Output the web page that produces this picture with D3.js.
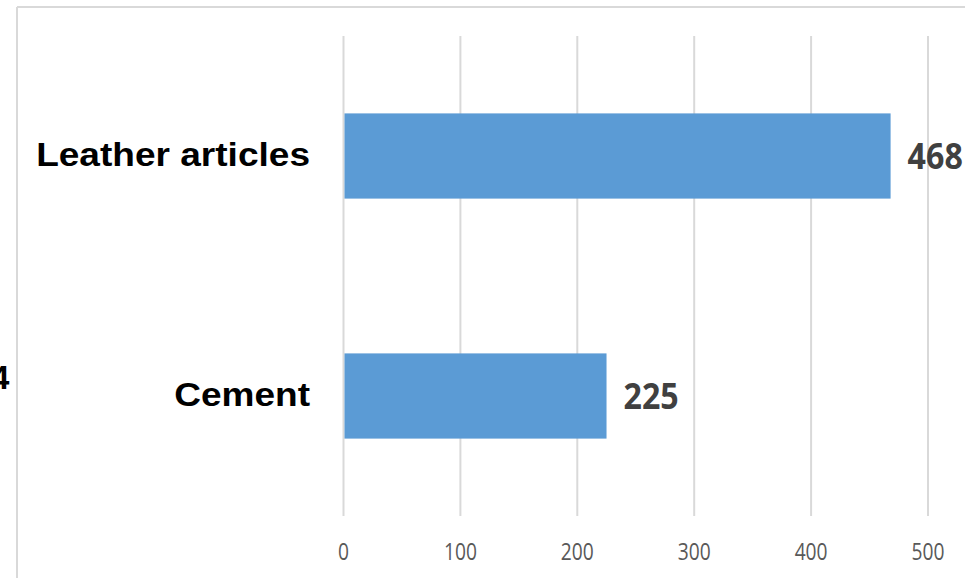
<!DOCTYPE html>
<html>
<head>
<meta charset="utf-8">
<script src="https://cdn.jsdelivr.net/npm/d3@7"></script>
<style>
  body { margin: 0; background: #fff; }
  svg { display: block; }
</style>
</head>
<body>
<div id="chart"></div>
<script>
// data
var categories = ['Leather articles', 'Cement']
var values = [468, 225]
var tickValues = [0, 100, 200, 300, 400, 500]

var width = 965
var height = 578

var svg = d3.select('#chart')
  .append('svg')
  .attr('width', width)
  .attr('height', height)

// chart frame (cropped, only top and left edges visible)
svg.append('line')
  .attr('x1', 17).attr('x2', width)
  .attr('y1', 7).attr('y2', 7)
  .attr('stroke', '#d9d9d9').attr('stroke-width', 2)
svg.append('line')
  .attr('x1', 17).attr('x2', 17)
  .attr('y1', 7).attr('y2', height)
  .attr('stroke', '#d9d9d9').attr('stroke-width', 2)

// piece of a cut-off title on the far left
svg.append('text')
  .attr('x', -9)
  .attr('y', 389)
  .attr('font-family', 'Liberation Sans, Arial, sans-serif')
  .attr('font-weight', 'bold')
  .attr('font-size', 33)
  .attr('fill', '#000')
  .text('4')

var x = d3.scaleLinear()
  .domain([0, 500])
  .range([343.5, 928])

var y = d3.scaleBand()
  .domain(categories)
  .range([36, 516])
  .paddingInner(0.645)
  .paddingOuter(0.3225)

// gridlines
svg.append('g')
  .selectAll('line')
  .data(tickValues)
  .enter()
  .append('line')
  .attr('x1', d => x(d))
  .attr('x2', d => x(d))
  .attr('y1', 36)
  .attr('y2', 516)
  .attr('stroke', '#d9d9d9')
  .attr('stroke-width', 2)

// bars
svg.append('g')
  .selectAll('rect')
  .data(values)
  .enter()
  .append('rect')
  .attr('x', x(0) + 1)
  .attr('y', (d, i) => y(categories[i]))
  .attr('width', d => x(d) - x(0) - 1)
  .attr('height', y.bandwidth())
  .attr('fill', '#5b9bd5')

// value labels
svg.append('g')
  .selectAll('text')
  .data(values)
  .enter()
  .append('text')
  .attr('transform', (d, i) => `translate(${x(d) + 17},${y(categories[i]) + y.bandwidth() / 2 + 13}) scale(0.92,1)`)
  .attr('font-family', 'Open Sans, sans-serif')
  .attr('font-weight', 'bold')
  .attr('font-size', 35)
  .attr('fill', '#404040')
  .text(d => d)

// category labels
svg.append('g')
  .selectAll('text')
  .data(categories)
  .enter()
  .append('text')
  .attr('transform', d => `translate(310,${y(d) + y.bandwidth() / 2 + 10}) scale(1.09,1)`)
  .attr('text-anchor', 'end')
  .attr('font-family', 'Liberation Sans, Arial, sans-serif')
  .attr('font-weight', 'bold')
  .attr('font-size', 34)
  .attr('fill', '#000')
  .text(d => d)

// x axis tick labels
svg.append('g')
  .selectAll('text')
  .data(tickValues)
  .enter()
  .append('text')
  .attr('transform', d => `translate(${x(d)},560) scale(0.8,1)`)
  .attr('text-anchor', 'middle')
  .attr('font-family', 'Open Sans, sans-serif')
  .attr('font-size', 24)
  .attr('fill', '#595959')
  .text(d => d)
</script>
</body>
</html>
